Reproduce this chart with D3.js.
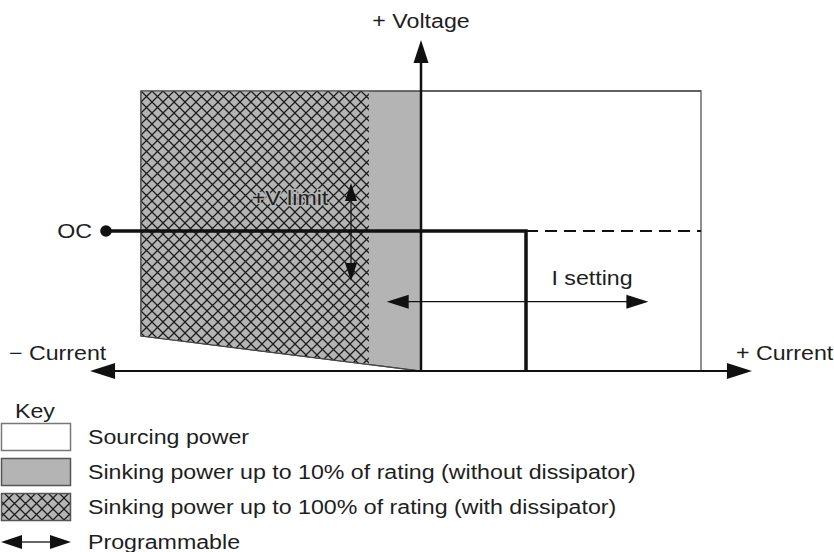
<!DOCTYPE html>
<html>
<head>
<meta charset="utf-8">
<script src="https://cdn.jsdelivr.net/npm/d3@7"></script>
<style>
  html, body { margin: 0; padding: 0; background: #fff; }
  svg { display: block; }
  text { font-family: "Liberation Sans", Arial, Helvetica, sans-serif; fill: #1e1e1e; }
</style>
</head>
<body>
<svg id="chart" width="834" height="552"></svg>
<script>
// Operating quadrants of a power supply: current (x) vs. voltage (y), both normalised to rating.
const currentDomain = [-1, 1];
const voltageDomain = [0, 1];
const axisReach = 1.182;                       // how far the axes run past the rated box

// Regions, as [current, voltage] corners
const sourcingRegion = [[0, 0], [1, 0], [1, 1], [0, 1]];
const sinkLimitedRegion = [[-1, 0.125], [0, 0], [0, 1], [-1, 1]];
const sinkFullRegion = [[-1, 0.125], [-0.186, 0.0233], [-0.186, 1], [-1, 1]];

// Programmed operating point: voltage limit and current setting
const ocPoint = [-1.125, 0.5];
const currentSetting = 0.375;
const voltageLimit = 0.5;
const operatingPath = [ocPoint, [currentSetting, voltageLimit], [currentSetting, 0]];
const setpointDashed = [[currentSetting, voltageLimit], [1, voltageLimit]];

// Programmable ranges drawn as double-headed arrows
const vLimitRange = { current: -0.25, from: 0.321, to: 0.671 };
const iSettingRange = { voltage: 0.2475, from: -0.1225, to: 0.812 };

// Texts
const axisLabels = ["+ Voltage", "\u2212 Current", "+ Current"];
const legendTitle = "Key";
const legendLabels = [
  "Sourcing power",
  "Sinking power up to 10% of rating (without dissipator)",
  "Sinking power up to 100% of rating (with dissipator)",
  "Programmable"
];
const legendKinds = ["sourcing", "sinkLimited", "sinkFull", "arrow"];

const GRAY = "#b4b4b4";
const INK = "#111";
const STRETCH = 1.16;

const svg = d3.select("#chart");
const x = d3.scaleLinear().domain(currentDomain).range([141, 701]);
const y = d3.scaleLinear().domain(voltageDomain).range([371, 91]);
const px = d => [x(d[0]), y(d[1])];

// Cross-hatch pattern over a gray ground
const defs = svg.append("defs");
const pat = defs.append("pattern")
  .attr("id", "hatch").attr("patternUnits", "userSpaceOnUse")
  .attr("width", 11).attr("height", 11)
  .attr("patternTransform", "translate(141,91)");
pat.append("rect").attr("width", 11).attr("height", 11).attr("fill", GRAY);
pat.append("path").attr("d", "M0,0L11,11M11,0L0,11M-1,10L1,12M10,-1L12,1")
  .attr("stroke", "#1c1c1c").attr("stroke-width", 1.25).attr("fill", "none");

const line = d3.line();

// Arrowhead: filled triangle with its tip at (tx, ty) pointing along angle (radians)
function arrowHead(g, tx, ty, angle, len, wid) {
  const c = Math.cos(angle), s = Math.sin(angle);
  const bx = tx - c * len, by = ty - s * len;
  const pts = [[tx, ty], [bx - s * wid / 2, by + c * wid / 2], [bx + s * wid / 2, by - c * wid / 2]];
  g.append("path").attr("d", line(pts) + "Z").attr("fill", INK);
}

function doubleArrow(g, x1, y1, x2, y2, len, wid, sw) {
  const a = Math.atan2(y2 - y1, x2 - x1);
  const c = Math.cos(a), s = Math.sin(a);
  g.append("line")
    .attr("x1", x1 + c * (len - 2)).attr("y1", y1 + s * (len - 2))
    .attr("x2", x2 - c * (len - 2)).attr("y2", y2 - s * (len - 2))
    .attr("stroke", INK).attr("stroke-width", sw);
  arrowHead(g, x2, y2, a, len, wid);
  arrowHead(g, x1, y1, a + Math.PI, len, wid);
}

// Horizontally widened label
function label(g, str, tx, ty, anchor) {
  const t = g.append("g").attr("transform", `translate(${tx},${ty}) scale(${STRETCH},1)`)
    .append("text").attr("font-size", 20).attr("text-anchor", anchor || "start").text(str);
  return t;
}

const plot = svg.append("g");

// Regions
plot.append("path").attr("d", line(sourcingRegion.map(px)) + "Z")
  .attr("fill", "#fff").attr("stroke", "#555").attr("stroke-width", 1.3);
plot.append("path").attr("d", line(sinkLimitedRegion.map(px)) + "Z")
  .attr("fill", GRAY).attr("stroke", "#444").attr("stroke-width", 1.2);
plot.append("path").attr("d", line(sinkFullRegion.map(px)) + "Z")
  .attr("fill", "url(#hatch)").attr("stroke", "none");
// Re-stroke the outer border of the sinking area
plot.append("path")
  .attr("d", line([sinkLimitedRegion[1], sinkLimitedRegion[0], sinkLimitedRegion[3], [1, 1]].map(px)))
  .attr("fill", "none").attr("stroke", "#444").attr("stroke-width", 1.2);

// Dashed continuation of the voltage limit
plot.append("path").attr("d", line(setpointDashed.map(px)))
  .attr("fill", "none").attr("stroke", INK).attr("stroke-width", 2)
  .attr("stroke-dasharray", "12,7");

// Axes
const x0 = x(0), y0 = y(0);
plot.append("line").attr("x1", x(-axisReach) + 20).attr("x2", x(axisReach) - 20)
  .attr("y1", y0).attr("y2", y0).attr("stroke", INK).attr("stroke-width", 2.2);
arrowHead(plot, x(-axisReach), y0, Math.PI, 25, 16);
arrowHead(plot, x(axisReach), y0, 0, 25, 16);
plot.append("line").attr("x1", x0).attr("x2", x0)
  .attr("y1", y0).attr("y2", y(axisReach) + 20)
  .attr("stroke", INK).attr("stroke-width", 2.5);
arrowHead(plot, x0, y(axisReach), -Math.PI / 2, 23, 15);

// Operating characteristic
plot.append("path").attr("d", line(operatingPath.map(px)))
  .attr("fill", "none").attr("stroke", INK).attr("stroke-width", 3.5)
  .attr("stroke-linejoin", "miter");
plot.append("circle").attr("cx", x(ocPoint[0])).attr("cy", y(ocPoint[1]))
  .attr("r", 5.8).attr("fill", INK);

// Programmable ranges
doubleArrow(plot, x(vLimitRange.current), y(vLimitRange.to),
  x(vLimitRange.current), y(vLimitRange.from), 18, 12, 1.2);
doubleArrow(plot, x(iSettingRange.from), y(iSettingRange.voltage),
  x(iSettingRange.to), y(iSettingRange.voltage), 22, 14, 1.2);

// Labels
label(plot, axisLabels[0], x0, 28, "middle");
label(plot, axisLabels[1], 9, 360, "start");
label(plot, axisLabels[2], 736, 360, "start");
label(plot, "OC", x(ocPoint[0]) - 14, 238, "end");
label(plot, "+V limit", 290, 205, "middle")
  .attr("stroke", GRAY).attr("stroke-width", 2.5).attr("paint-order", "stroke");
label(plot, "I setting", 592, 285, "middle");

// Key
const key = svg.append("g");
label(key, legendTitle, 15, 418, "start");
const rowY = i => 437 + i * 35;
legendKinds.forEach((kind, i) => {
  const cy = rowY(i);
  if (kind === "arrow") {
    doubleArrow(key, 1, cy, 71, cy, 21, 14, 1.3);
  } else {
    key.append("rect").attr("x", 1.5).attr("y", cy - 13.5).attr("width", 69).attr("height", 27)
      .attr("fill", kind === "sourcing" ? "#fff" : kind === "sinkLimited" ? GRAY : "url(#hatch)")
      .attr("stroke", kind === "sourcing" ? "#777" : "#555").attr("stroke-width", 1.5);
  }
  label(key, legendLabels[i], 88, cy + 6.5, "start");
});
</script>
</body>
</html>
